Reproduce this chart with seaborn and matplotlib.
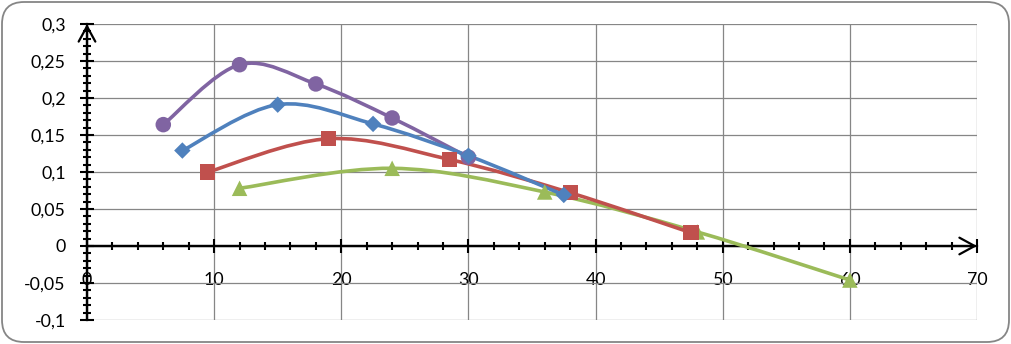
import numpy as np
import pandas as pd
import matplotlib
matplotlib.use("Agg")
import matplotlib.pyplot as plt
import seaborn as sns
from matplotlib.path import Path
from matplotlib.patches import PathPatch, FancyBboxPatch
from matplotlib.ticker import MultipleLocator, FixedLocator

# ---- data ----
purple_x = [6, 12, 18, 24, 30]
purple_y = [0.164, 0.245, 0.219, 0.173, 0.120]
blue_x = [7.5, 15, 22.5, 30, 37.5]
blue_y = [0.129, 0.191, 0.165, 0.122, 0.069]
red_x = [9.5, 19, 28.5, 38, 47.5]
red_y = [0.100, 0.145, 0.117, 0.072, 0.018]
green_x = [12, 24, 36, 48, 60]
green_y = [0.078, 0.105, 0.073, 0.019, -0.046]

x_ticks = [0, 10, 20, 30, 40, 50, 60, 70]
x_tick_labels = ["0", "10", "20", "30", "40", "50", "60", "70"]
y_ticks = [-0.1, -0.05, 0, 0.05, 0.1, 0.15, 0.2, 0.25, 0.3]
y_tick_labels = ["-0,1", "-0,05", "0", "0,05", "0,1", "0,15", "0,2", "0,25", "0,3"]

sns.set_theme(style="white")
plt.rcParams['font.family'] = ['Lato', 'DejaVu Sans']

W, H = 1012, 344
fig = plt.figure(figsize=(W / 100, H / 100), dpi=100)

# background frame
bg = fig.add_axes([0, 0, 1, 1], zorder=-10)
bg.set_xlim(0, W)
bg.set_ylim(0, H)
bg.axis("off")
bg.add_patch(FancyBboxPatch((2, 2), W - 5, H - 4,
                            boxstyle="round,pad=0,rounding_size=22",
                            facecolor="white", edgecolor="#868686", lw=1.3))

ax = fig.add_axes([87 / W, 1 - 320 / H, (977 - 87) / W, (320 - 24) / H])
ax.set_facecolor("none")
ax.set_xlim(0, 70)
ax.set_ylim(-0.1, 0.3)

ax.xaxis.set_major_locator(FixedLocator(x_ticks))
ax.xaxis.set_minor_locator(MultipleLocator(2))
ax.yaxis.set_major_locator(FixedLocator(y_ticks))
ax.yaxis.set_minor_locator(MultipleLocator(0.01))
ax.set_xticklabels(x_tick_labels)
ax.set_yticklabels(y_tick_labels)

ax.grid(True, which="major", color="#868686", lw=0.9)
ax.set_axisbelow(True)

for s in ["top", "right"]:
    ax.spines[s].set_visible(False)
ax.spines["left"].set_position(("data", 0))
ax.spines["bottom"].set_position(("data", 0))
for s in ["left", "bottom"]:
    ax.spines[s].set_color("black")
    ax.spines[s].set_linewidth(1.6)
    ax.spines[s].set_zorder(2)

ax.tick_params(axis="both", which="major", direction="inout", length=9.5,
               width=1.5, color="black", labelsize=12.8, labelcolor="black")
ax.tick_params(axis="both", which="minor", direction="inout", length=6,
               width=1.5, color="black")
ax.tick_params(axis="x", which="major", pad=14)
ax.tick_params(axis="y", which="major", pad=10.5)
ax.tick_params(left=True, bottom=True, which="both")

# arrows on axes
arrow = dict(arrowstyle="->,head_length=0.55,head_width=0.3", lw=1.6,
             color="black", mutation_scale=20, shrinkA=0, shrinkB=0)
ax.annotate("", xy=(70, 0), xytext=(0, 0), arrowprops=arrow, annotation_clip=False)
ax.annotate("", xy=(0, 0.3), xytext=(0, -0.1), arrowprops=arrow, annotation_clip=False)


def smooth_path(xs, ys):
    P = np.column_stack([xs, ys]).astype(float)
    n = len(P)
    verts = [P[0]]
    codes = [Path.MOVETO]
    for i in range(n - 1):
        p0 = P[i - 1] if i > 0 else P[i]
        p1 = P[i]
        p2 = P[i + 1]
        p3 = P[i + 2] if i + 2 < n else P[i + 1]
        c1 = p1 + (p2 - p0) / 6
        c2 = p2 - (p3 - p1) / 6
        verts += [c1, c2, p2]
        codes += [Path.CURVE4] * 3
    return Path(verts, codes)


series = [
    ("purple", purple_x, purple_y, "#8064A2", "o", 125),
    ("green", green_x, green_y, "#9BBB59", "^", 125),
    ("red", red_x, red_y, "#C0504D", "s", 120),
    ("blue", blue_x, blue_y, "#4F81BD", "D", 70),
]

for i, (name, xs, ys, c, m, s) in enumerate(series):
    ax.add_patch(PathPatch(smooth_path(xs, ys), facecolor="none", edgecolor=c,
                           lw=2.6, capstyle="round", joinstyle="round",
                           zorder=3 + i * 0.1))

for i, (name, xs, ys, c, m, s) in enumerate(series):
    df = pd.DataFrame({"x": xs, "y": ys})
    sns.scatterplot(data=df, x="x", y="y", ax=ax, marker=m, color=c, s=s,
                    edgecolor="none", linewidth=0, zorder=5 + i * 0.1,
                    clip_on=False, legend=False)

ax.set_xlabel("")
ax.set_ylabel("")

fig.savefig("out.png", dpi=100)
